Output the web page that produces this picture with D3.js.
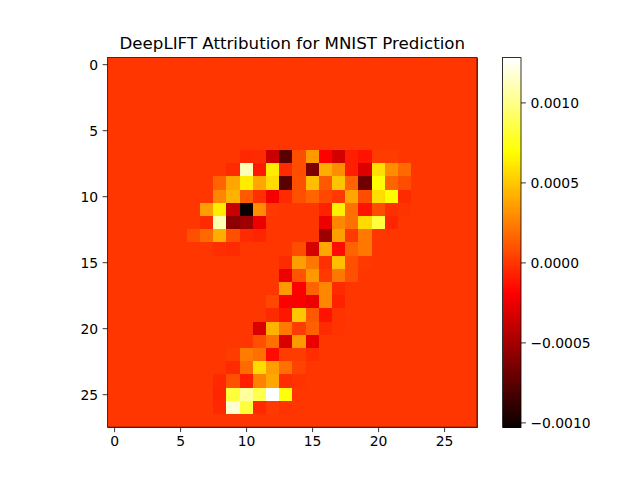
<!DOCTYPE html>
<html>
<head>
<meta charset="utf-8">
<script src="https://cdn.jsdelivr.net/npm/d3@7"></script>
<style>
  html, body { margin: 0; background: #fff; }
  svg { display: block; font-family: "DejaVu Sans", sans-serif; }
  .tick text { font-family: "DejaVu Sans", sans-serif; font-size: 13.9px; fill: #000; }
</style>
</head>
<body>
<div id="plot-container"></div>
<script>
// Attribution values, in units of 1e-4
const unit = 1e-4;
const zeroRow = d3.range(28).map(() => 0);
const attributions = [
  zeroRow, zeroRow, zeroRow, zeroRow, zeroRow, zeroRow, zeroRow,
  [0,0,0,0,0,0,0,0,0,0,-0.5,-0.4,-3.7,-7.6,0.8,3.4,-1.9,-3.4,-0.8,-1.2,0.2,0.2,0,0,0,0,0,0],
  [0,0,0,0,0,0,0,0,0,-0.4,11.2,-1,6.3,-0.4,0.8,-6.4,4.1,3,-0.8,-3,5.8,3,1.8,0,0,0,0,0],
  [0,0,0,0,0,0,0,0,1.6,3.9,6.3,3.9,5.7,-7.6,0.9,4.7,1.2,4.9,1.6,-6.8,6.9,1.6,0.8,0,0,0,0,0],
  [0,0,0,0,0,0,0,0,2.8,4.3,1.2,-0.2,-2.2,-0.4,0.9,1.6,0.6,0.1,3.9,0.8,5.8,6.9,-0.4,0,0,0,0,0],
  [0,0,0,0,0,0,0,3.6,6.3,-3.8,-10.3,3,0.1,0,0,0,-0.7,6.4,2,-1.2,0.8,-0.2,-0.1,0,0,0,0,0],
  [0,0,0,0,0,0,0,-0.4,11,-5.8,-5.2,-2.5,0,0,0,0,-2.5,2.8,2,5.7,8.3,-0.6,0,0,0,0,0,0],
  [0,0,0,0,0,0,0.9,1.8,4.1,0.9,-0.4,-0.6,0,0,0,0,-5.3,3.6,0.1,2.3,0,0,0,0,0,0,0,0],
  [0,0,0,0,0,0,0,0,-0.3,-0.4,0,0,0,0,0.8,-3.3,3.9,-1.5,1.5,2.2,0,0,0,0,0,0,0,0],
  [0,0,0,0,0,0,0,0,0,0,0,0,0,-0.4,3.6,2.2,-0.2,4.7,0.9,0.1,0,0,0,0,0,0,0,0],
  [0,0,0,0,0,0,0,0,0,0,0,0,0,-2.5,1,3.4,0.1,2.2,0.9,0,0,0,0,0,0,0,0,0],
  [0,0,0,0,0,0,0,0,0,0,0,0,0,3.4,-1.9,1.5,2.8,-0.4,0,0,0,0,0,0,0,0,0,0],
  [0,0,0,0,0,0,0,0,0,0,0,0,0.6,-1.9,-2,-2.5,2.8,-0.7,0,0,0,0,0,0,0,0,0,0],
  [0,0,0,0,0,0,0,0,0,0,0,0,-0.4,-1.1,5,1.2,-1.2,-0.1,0,0,0,0,0,0,0,0,0,0],
  [0,0,0,0,0,0,0,0,0,0,0,-3.1,4.3,2.3,0.2,1.4,-0.4,-0.1,0,0,0,0,0,0,0,0,0,0],
  [0,0,0,0,0,0,0,0,0,0,0,0.9,2,-3.1,3.4,-2.6,0,0,0,0,0,0,0,0,0,0,0,0],
  [0,0,0,0,0,0,0,0,0,0.2,2.4,2,-1.5,0.2,0.2,-0.3,0,0,0,0,0,0,0,0,0,0,0,0],
  [0,0,0,0,0,0,0,0,0,-0.4,1.8,5.7,3.6,2,0.4,0,0,0,0,0,0,0,0,0,0,0,0,0],
  [0,0,0,0,0,0,0,0,-0.5,0.9,-0.8,2.6,3.9,-0.3,-0.1,0,0,0,0,0,0,0,0,0,0,0,0,0],
  [0,0,0,0,0,0,0,0,-0.6,8.3,10.5,8.7,12.8,7.2,0,0,0,0,0,0,0,0,0,0,0,0,0,0],
  [0,0,0,0,0,0,0,0,-0.5,11.8,8.3,-0.5,0.1,-0.1,0,0,0,0,0,0,0,0,0,0,0,0,0,0],
  zeroRow
];
const colorMin = -10.3 * unit;
const colorMax = 12.8 * unit;
const axisTicks = [0, 5, 10, 15, 20, 25];
const colorbarTicks = [-0.001, -0.0005, 0, 0.0005, 0.001];
const chartTitle = "DeepLIFT Attribution for MNIST Prediction";

const width = 640;
const height = 480;
const plotLeft = 107.5, plotTop = 57.6, side = 369.6;
const barLeft = 502.5, barWidth = 18.5;

// matplotlib "hot" colormap
const hotR = d3.scaleLinear().domain([0, 0.365079]).range([0.0416, 1]).clamp(true);
const hotG = d3.scaleLinear().domain([0.365079, 0.746032]).range([0, 1]).clamp(true);
const hotB = d3.scaleLinear().domain([0.746032, 1]).range([0, 1]).clamp(true);
const hot = t => d3.rgb(hotR(t) * 255, hotG(t) * 255, hotB(t) * 255).formatRgb();

const norm = d3.scaleLinear().domain([colorMin, colorMax]).range([0, 1]);

const svg = d3.select("#plot-container").append("svg")
  .attr("width", width)
  .attr("height", height);

const x = d3.scaleLinear().domain([-0.5, 27.5]).range([plotLeft, plotLeft + side]);
const y = d3.scaleLinear().domain([-0.5, 27.5]).range([plotTop, plotTop + side]);

// heatmap cells
svg.append("g")
  .attr("shape-rendering", "crispEdges")
  .selectAll("g")
  .data(attributions)
  .join("g")
  .each(function(row, r) {
    d3.select(this).selectAll("rect")
      .data(row)
      .join("rect")
      .attr("x", (d, c) => x(c - 0.5))
      .attr("y", y(r - 0.5))
      .attr("width", x(1) - x(0) + 0.5)
      .attr("height", y(1) - y(0) + 0.5)
      .attr("fill", d => hot(norm(d * unit)));
  });

function styleAxis(g) {
  g.selectAll(".domain").remove();
  g.selectAll(".tick line").attr("stroke", "#000").attr("stroke-width", 0.8);
}

svg.append("g")
  .attr("transform", `translate(0,${plotTop + side})`)
  .call(d3.axisBottom(x).tickValues(axisTicks).tickSize(4.9).tickPadding(4.5).tickFormat(d3.format("d")))
  .call(styleAxis);

svg.append("g")
  .attr("transform", `translate(${plotLeft},0)`)
  .call(d3.axisLeft(y).tickValues(axisTicks).tickSize(4.9).tickPadding(4.5).tickFormat(d3.format("d")))
  .call(styleAxis)
  .call(g => g.selectAll(".tick text").attr("dy", "0.38em"));

svg.append("rect")
  .attr("x", plotLeft).attr("y", plotTop)
  .attr("width", side).attr("height", side)
  .attr("fill", "none").attr("stroke", "#000").attr("stroke-width", 0.8);

svg.append("text")
  .attr("x", plotLeft + side / 2)
  .attr("y", 49)
  .attr("text-anchor", "middle")
  .attr("font-size", 16.67)
  .text(chartTitle);

// colorbar
const cy = d3.scaleLinear().domain([colorMin, colorMax]).range([plotTop + side, plotTop]);
const levels = d3.range(256);

svg.append("g")
  .attr("shape-rendering", "crispEdges")
  .selectAll("rect")
  .data(levels)
  .join("rect")
  .attr("x", barLeft)
  .attr("width", barWidth)
  .attr("y", d => cy(colorMin + (d + 1) / 256 * (colorMax - colorMin)))
  .attr("height", side / 256 + 0.5)
  .attr("fill", d => hot(d / 255));

svg.append("g")
  .attr("transform", `translate(${barLeft + barWidth},0)`)
  .call(d3.axisRight(cy).tickValues(colorbarTicks).tickSize(4.9).tickPadding(4.5).tickFormat(d3.format(".4f")))
  .call(styleAxis)
  .call(g => g.selectAll(".tick text").attr("dy", "0.38em"));

svg.append("rect")
  .attr("x", barLeft).attr("y", plotTop)
  .attr("width", barWidth).attr("height", side)
  .attr("fill", "none").attr("stroke", "#000").attr("stroke-width", 0.8);
</script>
</body>
</html>
